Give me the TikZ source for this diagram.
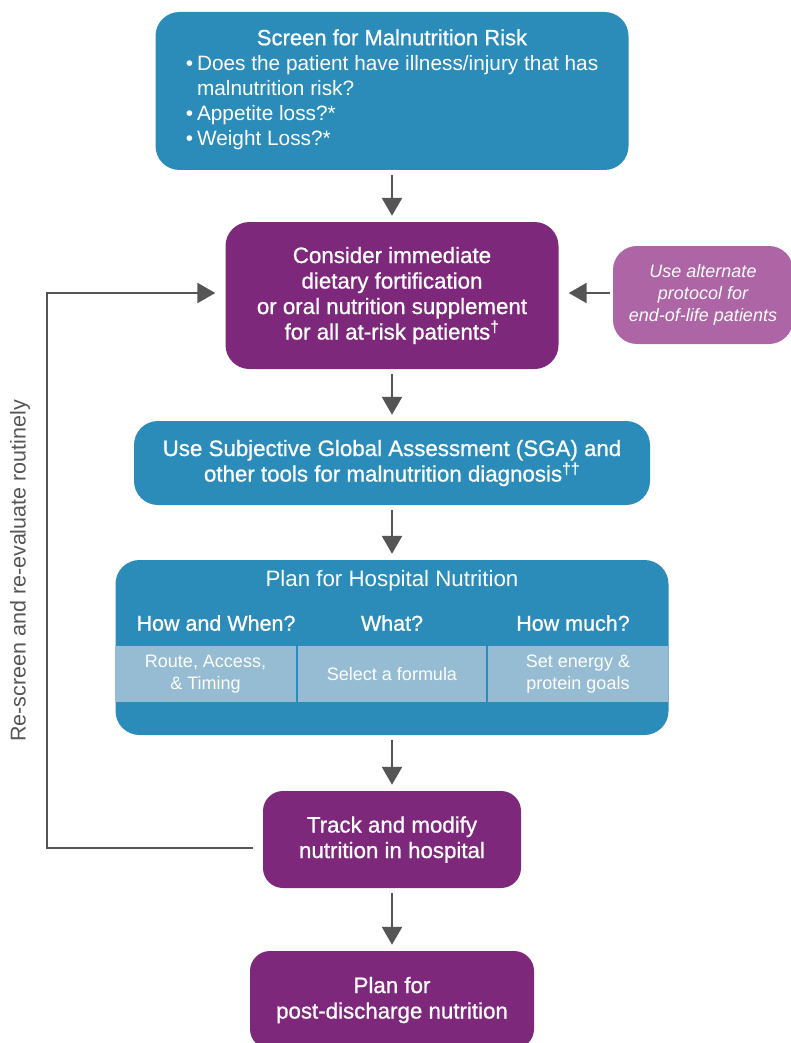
\documentclass[tikz,border=0pt]{standalone}
\usepackage{fontspec}
\setmainfont{Liberation Sans}
\newfontfamily\medfont{Liberation Sans}[FakeBold=0.9]
\usetikzlibrary{arrows.meta,positioning}
\definecolor{nutblue}{RGB}{43,140,186}
\definecolor{nutpurple}{RGB}{126,40,124}
\definecolor{nutlilac}{RGB}{174,101,165}
\definecolor{nutpale}{RGB}{149,188,210}
\definecolor{nutgray}{RGB}{85,85,85}

\begin{document}
\begin{tikzpicture}[x=1pt,y=-1pt,
    box/.style={rounded corners=24pt, text=white, align=center, inner sep=0pt},
    bluebox/.style={box, fill=nutblue},
    purplebox/.style={box, fill=nutpurple},
    medium/.style={font=\medfont\fontsize{22.3}{25.5}\selectfont},
    cell/.style={fill=nutpale, text=white, align=center, minimum height=56pt, inner sep=0pt, font=\fontsize{18}{22}\selectfont},
    head/.style={text=white, inner sep=0pt, font=\medfont\fontsize{21.5}{24}\selectfont},
    arr/.style={draw=nutgray, line width=2.5pt, -{Triangle[width=20pt,length=18pt]}}]
  \useasboundingbox (0,0) rectangle (790,1043);

  \node[bluebox, minimum width=473pt, minimum height=158pt, font=\fontsize{20.8}{25}\selectfont] (screen) at (392,91) {%
    {\medfont\fontsize{22}{25}\selectfont Screen for Malnutrition Risk}\\
    \begin{tabular}[t]{@{}l@{\hspace{4pt}}l@{}}
      \textbullet & Does the patient have illness/injury that has\\
                  & malnutrition risk?\\
      \textbullet & Appetite loss?*\\
      \textbullet & Weight Loss?*
    \end{tabular}};
  \node[purplebox, medium, minimum width=333pt, minimum height=147pt] (consider) at (392,295.5)
    {Consider immediate\\dietary fortification\\or oral nutrition supplement\\for all at-risk patients\textsuperscript{†}};
  \node[box, fill=nutlilac, minimum width=180pt, minimum height=98pt, font=\itshape\fontsize{18}{22}\selectfont] (alt) at (703,295)
    {Use alternate\\protocol for\\end-of-life patients};
  \node[bluebox, medium, minimum width=516pt, minimum height=84pt] (sga) at (392,463)
    {Use Subjective Global Assessment (SGA) and\\other tools for malnutrition diagnosis\textsuperscript{††}};

  \node[bluebox, minimum width=553pt, minimum height=175pt] (plan) at (392,647.5) {};
  \node[text=white, font=\fontsize{22.3}{24}\selectfont] (plantitle) at (392,581) {Plan for Hospital Nutrition};
  \foreach \x/\w/\hx/\name/\q/\txt in {205.5/181/216/how/How and When?/{Route, Access,\\\& Timing},
                                     392/188/392/what/What?/Select a formula,
                                     578/180/573/much/How much?/{Set energy \&\\protein goals}} {
    \node[head] (\name head) at (\hx,623) {\q};
    \node[cell, minimum width=\w pt] (\name cell) at (\x,674) {\txt};
  }

  \node[purplebox, medium, minimum width=258pt, minimum height=97pt, rounded corners=20pt] (track) at (392,839.5)
    {Track and modify\\nutrition in hospital};
  \node[purplebox, medium, minimum width=284pt, minimum height=98pt, rounded corners=20pt] (post) at (392,1000)
    {Plan for\\post-discharge nutrition};

  \foreach \a/\b in {screen/consider, consider/sga, sga/plan, plan/track, track/post}
    \draw[arr, shorten <=5pt, shorten >=6pt] (\a) -- (\b);

  \draw[arr] ([xshift=-3pt,yshift=2pt]alt.west) -- ([xshift=10pt,yshift=2.5pt]consider.east);
  \coordinate (loop) at (47,848);
  \draw[arr] ([xshift=-10pt,yshift=-8.5pt]track.west) -- (loop) |- ([xshift=-10pt,yshift=2.5pt]consider.west);
  \node[rotate=90, text=nutgray, font=\fontsize{21.5}{23}\selectfont] (rescreen) at (20,571) {Re-screen and re-evaluate routinely};
\end{tikzpicture}
\end{document}
